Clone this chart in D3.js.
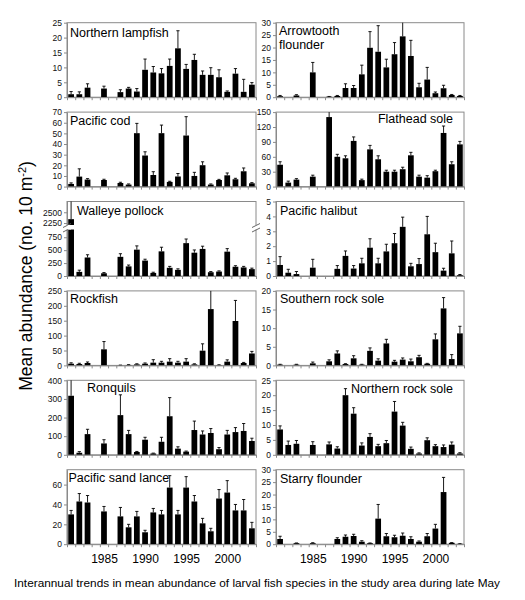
<!DOCTYPE html>
<html><head><meta charset="utf-8">
<script src="https://cdn.jsdelivr.net/npm/d3@7"></script>
<style>
body{margin:0;background:#fff}
text{font-family:"Liberation Sans",Arial,sans-serif}
</style>
</head><body>
<svg id="c" width="525" height="600"></svg>
<script>
// ---------------- data ----------------
const years = [1981,1982,1983,1984,1985,1986,1987,1988,1989,1990,1991,1992,1993,1994,1995,1996,1997,1998,1999,2000,2001,2002,2003];
const yearTickLabels = [1985,1990,1995,2000];

const lampfishMean = [1.0,1.0,3.2,null,2.9,null,1.7,2.9,1.9,9.2,8.3,8.0,10.5,16.4,9.5,12.5,7.5,7.5,6.7,1.8,7.9,1.8,4.2];
const lampfishSE   = [0.9,0.8,1.3,null,0.8,null,0.8,0.4,1.0,3.6,2.0,1.6,2.3,5.9,1.5,1.9,1.3,2.4,2.5,0.3,1.7,4.2,0.7];
const lampfishTicks = [0,5,10,15,20,25];

const codMean = [2.5,9.4,6.6,null,6.2,null,3.4,1.9,50.2,29.2,10.9,50.2,4.4,9.5,48,10,20.1,1.9,6.2,10.6,6.9,14.4,3.1];
const codSE   = [1.0,7.3,0.9,null,0.7,null,0.7,0.6,9.2,3.5,3.1,7.6,0.6,2.8,17.7,3.4,3.2,0.6,0.6,2.2,0.9,3.1,0.6];
const codTicks = [0,10,20,30,40,50,60,70];

const pollockMean = [2340,80,358,null,53,null,371,186,510,298,60,477,159,119,636,451,524,73,86,471,179,166,133];
const pollockSE   = [420,33,53,null,13,null,60,26,73,27,13,80,27,20,80,53,53,13,13,59,20,20,19];
const pollockTicks = [0,250,500,750,2250,2500];

const rockfishMean = [5.7,4.6,8,null,54,null,0.5,1.5,3.4,5.7,9.2,9.2,12.6,9.2,12.6,3.4,49.4,189,1.1,12.6,149,8,40];
const rockfishSE   = [3,2.5,3.5,null,26,null,0.5,1,2,2.5,10,4.5,10,4.5,10,2,23,70,1,6,69,2,7];
const rockfishTicks = [0,50,100,150,200,250];

const ronquilMean = [317,11,111,null,61,null,213,111,15,81,7,70,207,33,17,133,109,117,30,109,122,128,74];
const ronquilSE   = [90,6,26,null,20,null,109,20,3,13,2,24,100,10,3,48,19,24,9,22,24,40,15];
const ronquilTicks = [0,100,200,300,400];

const sandLanceMean = [30,43,42,null,33,null,28,17,28,12,32,30,57,30,57,43,21,13,46,52,34,34,16];
const sandLanceSE   = [4,8,7,null,5,null,9,3,5,2,4,4,12,4,11,6,5,3,9,12,6,11,6];
const sandLanceTicks = [0,20,40,60];

const arrowMean = [0.4,0,0.7,null,10,null,0.2,0.5,3.7,3.7,9.2,19.9,18.3,12,17.3,24.5,16.6,4,7.1,1.6,3.6,0.9,0.5];
const arrowSE   = [0.3,0,0.3,null,4,null,0.1,0.2,1.7,1,3.7,6.5,10.5,3.3,4.7,5.5,6.3,1.6,4.9,0.5,1.2,0.2,0.2];
const arrowTicks = [0,5,10,15,20,25,30];

const flatheadMean = [44,8,14,null,20,null,140,60,57,92,13,75,55,30,30,35,63,20,18,31,108,45,85];
const flatheadSE   = [6,3,2,null,3,null,12,5,5,8,2,8,7,3,3,4,6,3,4,2,14,5,6];
const flatheadTicks = [0,30,60,90,120,150];

const halibutMean = [0.74,0.22,0.13,null,0.56,null,0,0.48,1.35,0.5,0.85,1.9,0.85,1.65,2.2,3.3,0.65,0.8,2.8,1.6,0.36,1.52,0.05];
const halibutSE   = [0.56,0.23,0.17,null,0.56,null,0,0.22,0.33,0.2,0.34,0.6,0.34,0.48,0.65,0.65,0.2,0.37,1.2,0.6,0.16,0.83,0.05];
const halibutTicks = [0,1,2,3,4,5];

const srsMean = [0.2,0,0.2,null,0.55,null,1.1,3.2,0.36,1.9,0.2,3.9,1.27,5.9,1,1.55,1.1,2.2,0.45,7,15.3,1.7,8.6];
const srsSE   = [0.1,0,0.1,null,0.35,null,0.4,0.7,0.1,0.7,0.1,0.8,0.5,1.1,0.36,0.45,0.6,0.5,0.1,1.45,2.9,1.2,1.9];
const srsTicks = [0,5,10,15,20];

const nrsMean = [8.5,3.3,3.7,null,3.3,null,3.5,2.1,20,13.8,3.1,6,2.9,3.9,14.5,9.8,2,0.45,4.9,2.9,2.6,3.4,0.45];
const nrsSE   = [1.2,1.3,1.1,null,1.1,null,0.8,0.6,2.2,2,0.9,1.1,0.6,0.9,3.4,1.1,0.6,0.2,0.8,0.5,0.7,0.9,0.25];
const nrsTicks = [0,5,10,15,20,25];

const starryMean = [2.1,0,0.4,null,0.4,null,0,2.1,3,3.3,1,0.4,10.3,3.2,2.8,3.4,2.1,1,3.2,6.3,21,0.55,0.15];
const starrySE   = [1.1,0,0.1,null,0.2,null,0,0.5,0.7,0.7,0.4,0.1,5.7,1.1,0.8,1.1,0.9,0.3,1.1,1.7,5.9,0.1,0.05];
const starryTicks = [0,5,10,15,20,25,30];

const yTitle = "Mean abundance (no. 10 m";
const caption = "Interannual trends in mean abundance of larval fish species in the study area during late May";

// ---------------- layout ----------------
const svg = d3.select("#c");
const cols = [{x0:67,x1:256},{x0:276,x1:464}];
const rowTop = i => 22.7 + i*89.4;
const PH = 74.5;
const frameColor = "#8a8a8a";
const FONT = '"Liberation Sans",Arial,sans-serif';

const panels = [
  {col:0,row:0,title:["Northern lampfish"],mean:lampfishMean,se:lampfishSE,ticks:lampfishTicks,max:25,tx:3,ty:[13.8]},
  {col:0,row:1,title:["Pacific cod"],mean:codMean,se:codSE,ticks:codTicks,max:70,tx:3,ty:[12.5]},
  {col:0,row:2,title:["Walleye pollock"],mean:pollockMean,se:pollockSE,ticks:pollockTicks,max:2750,tx:10,ty:[13],broken:true},
  {col:0,row:3,title:["Rockfish"],mean:rockfishMean,se:rockfishSE,ticks:rockfishTicks,max:250,tx:3,ty:[12]},
  {col:0,row:4,title:["Ronquils"],mean:ronquilMean,se:ronquilSE,ticks:ronquilTicks,max:400,tx:20,ty:[12]},
  {col:0,row:5,title:["Pacific sand lance"],mean:sandLanceMean,se:sandLanceSE,ticks:sandLanceTicks,max:75,tx:1.5,ty:[12.5],bottom:true},
  {col:1,row:0,title:["Arrowtooth","flounder"],mean:arrowMean,se:arrowSE,ticks:arrowTicks,max:30,tx:3,ty:[12.3,26.3]},
  {col:1,row:1,title:["Flathead sole"],mean:flatheadMean,se:flatheadSE,ticks:flatheadTicks,max:150,tx:-11,ty:[11],right:true},
  {col:1,row:2,title:["Pacific halibut"],mean:halibutMean,se:halibutSE,ticks:halibutTicks,max:5,tx:4,ty:[13.5]},
  {col:1,row:3,title:["Southern rock sole"],mean:srsMean,se:srsSE,ticks:srsTicks,max:20,tx:4,ty:[12.4]},
  {col:1,row:4,title:["Northern rock sole"],mean:nrsMean,se:nrsSE,ticks:nrsTicks,max:25,tx:-11,ty:[12.7],right:true},
  {col:1,row:5,title:["Starry flounder"],mean:starryMean,se:starrySE,ticks:starryTicks,max:30,tx:4,ty:[12.8],bottom:true}
];

panels.forEach(p => {
  const {x0,x1} = cols[p.col];
  const top = rowTop(p.row), base = top + PH;
  const g = svg.append("g");
  const x = d3.scaleBand().domain(years).range([x0,x1]).paddingInner(0.3).paddingOuter(0.15);
  let y;
  if (p.broken) {
    const brk = base - 46.5;
    y = d3.scaleLinear().domain([0,900,2100,p.max]).range([base,brk,brk,top]).clamp(true);
  } else {
    y = d3.scaleLinear().domain([0,p.max]).range([base,top]).clamp(true);
  }
  // frame
  g.append("rect").attr("x",x0).attr("y",top).attr("width",x1-x0).attr("height",PH)
    .attr("fill","none").attr("stroke",frameColor).attr("stroke-width",1);

  const data = years.map((yr,i)=>({yr,m:p.mean[i],s:p.se[i]})).filter(d=>d.m!==null && d.m>0);
  // bars
  g.selectAll("rect.bar").data(data).join("rect").attr("class","bar")
    .attr("x",d=>x(d.yr)).attr("width",x.bandwidth())
    .attr("y",d=>y(d.m)).attr("height",d=>base-y(d.m)).attr("fill","#000");
  // error bars
  const cx = d=>x(d.yr)+x.bandwidth()/2;
  const eb = data.filter(d=>d.s>0);
  g.selectAll("line.err").data(eb).join("line").attr("class","err")
    .attr("x1",cx).attr("x2",cx).attr("y1",d=>y(d.m)).attr("y2",d=>y(d.m+d.s))
    .attr("stroke","#000").attr("stroke-width",0.9);
  g.selectAll("line.cap").data(eb.filter(d=>y(d.m+d.s)>top+0.5)).join("line").attr("class","cap")
    .attr("x1",d=>cx(d)-1.6).attr("x2",d=>cx(d)+1.6).attr("y1",d=>y(d.m+d.s)).attr("y2",d=>y(d.m+d.s))
    .attr("stroke","#000").attr("stroke-width",0.9);

  // y axis
  const ya = g.append("g").attr("transform",`translate(${x0},0)`)
    .call(d3.axisLeft(y).tickValues(p.ticks).tickSize(3).tickSizeOuter(0).tickPadding(2).tickFormat(d3.format("d")));
  ya.select(".domain").attr("stroke",frameColor);
  ya.selectAll(".tick line").attr("stroke",frameColor);
  ya.selectAll(".tick text").attr("font-size","8.5px").attr("fill","#111").attr("font-family",FONT);

  // x axis (category boundaries)
  const xe = d3.scaleLinear().domain([years[0]-0.5, years[years.length-1]+0.5]).range([x0,x1]);
  const edges = years.map(v=>v-0.5).concat([years[years.length-1]+0.5]);
  const xa = g.append("g").attr("transform",`translate(0,${base})`)
    .call(d3.axisBottom(xe).tickValues(edges).tickSize(3).tickSizeOuter(0).tickFormat(""));
  xa.select(".domain").attr("stroke",frameColor);
  xa.selectAll(".tick line").attr("stroke",frameColor);

  if (p.bottom) {
    const xl = g.append("g").attr("transform",`translate(0,${base+6})`)
      .call(d3.axisBottom(xe).tickValues(yearTickLabels).tickSize(0).tickPadding(4).tickFormat(d3.format("d")));
    xl.select(".domain").remove();
    xl.selectAll(".tick text").attr("font-size","12px").attr("fill","#000").attr("font-family",FONT);
  }

  // break marks
  if (p.broken) {
    const by = base - 46.5;
    const b = g.append("g");
    [[x0-4, x0+4],[x1-4, x1+4]].forEach(([l,r])=>{
      b.append("rect").attr("x",l).attr("y",by-4.5).attr("width",r-l).attr("height",4.5).attr("fill","#fff");
      b.append("line").attr("x1",l).attr("y1",by-2).attr("x2",r).attr("y2",by-6).attr("stroke","#555").attr("stroke-width",0.9);
      b.append("line").attr("x1",l).attr("y1",by+2.5).attr("x2",r).attr("y2",by-1.5).attr("stroke","#555").attr("stroke-width",0.9);
    });
    b.append("rect").attr("x",x(years[0])-0.5).attr("y",by-4.5).attr("width",x.bandwidth()+1).attr("height",4.5).attr("fill","#fff");
  }

  // title
  p.title.forEach((s,i)=>{
    g.append("text").attr("font-size","12.5px").attr("fill","#000")
      .attr("text-anchor",p.right?"end":"start")
      .attr("x",p.right? x1+p.tx : x0+p.tx).attr("y",top+p.ty[i]).text(s);
  });
});

// y title
const yt = svg.append("text").attr("transform","translate(32,276) rotate(-90)")
  .attr("text-anchor","middle").attr("font-size","17.5px").attr("fill","#000");
yt.append("tspan").text(yTitle);
yt.append("tspan").attr("font-size","11px").attr("dy","-6.5").text("-2");
yt.append("tspan").attr("dy","6.5").text(")");

// caption
svg.append("text").attr("x",257).attr("y",587).attr("text-anchor","middle")
  .attr("font-size","11.8px").attr("fill","#000").text(caption);
</script>
</body></html>
